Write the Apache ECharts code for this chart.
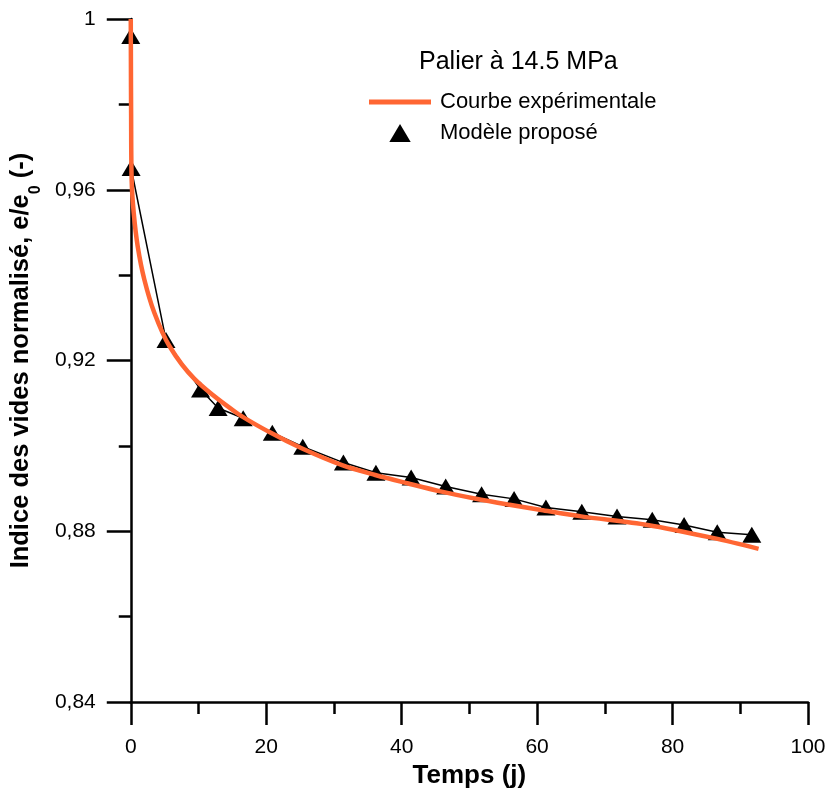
<!DOCTYPE html>
<html>
<head>
<meta charset="utf-8">
<script src="https://cdn.jsdelivr.net/npm/echarts@6/dist/echarts.min.js"></script>
<style>
html,body{margin:0;padding:0;background:#fff;}
#chart{width:833px;height:794px;}
</style>
</head>
<body>
<div id="chart"></div>
<script>
// Experimental curve (time in days, normalized void ratio)
const expTime = [0, 0.02, 0.05, 0.13, 0.44, 1.03, 2.0, 3.48, 5.7, 9.4, 15.5, 20.4, 25.3, 31.2, 36.1, 41, 45.9, 50.8, 55.7, 60.6, 66.5, 76.3, 86.1, 92.7];
const expValue = [1.0, 0.99, 0.978, 0.9623, 0.9545, 0.9467, 0.939, 0.9312, 0.9234, 0.9157, 0.9079, 0.9033, 0.8994, 0.8955, 0.8932, 0.8912, 0.8893, 0.8877, 0.8863, 0.885, 0.8835, 0.8815, 0.8784, 0.8759];
// Proposed model points
const modelTime = [0, 0.05, 5.2, 10.3, 12.9, 16.6, 20.9, 25.4, 31.4, 36.2, 41.4, 46.5, 51.8, 56.6, 61.3, 66.6, 71.8, 77.0, 81.7, 86.6, 91.7];
const modelValue = [0.996, 0.9651, 0.9248, 0.9132, 0.9089, 0.9065, 0.9031, 0.8998, 0.8961, 0.8937, 0.8926, 0.8905, 0.8887, 0.8876, 0.8856, 0.8846, 0.8835, 0.8827, 0.8815, 0.8798, 0.8792];
const seriesNames = ['Courbe expérimentale', 'Modèle proposé'];
const titleText = 'Palier à 14.5 MPa';
const xName = 'Temps (j)';

const font = 'Liberation Sans, Arial, Helvetica, sans-serif';
const chart = echarts.init(document.getElementById('chart'));
chart.setOption({
  backgroundColor: '#ffffff',
  animation: false,
  title: {
    text: titleText,
    left: 414, top: 45,
    textStyle: {fontFamily: font, fontSize: 25, fontWeight: 'normal', color: '#000'}
  },
  legend: {
    orient: 'vertical',
    left: 364, top: 86,
    itemWidth: 62, itemHeight: 18,
    itemGap: 9,
    symbolKeepAspect: true,
    textStyle: {fontFamily: font, fontSize: 22, color: '#000', padding: [0, 0, 0, 4]},
    data: [
      {name: seriesNames[0], icon: 'path://M0,0h62v5h-62z', itemStyle: {color: '#FF6633'}},
      {name: seriesNames[1], icon: 'path://M0,16L9.5,0L19,16Z', itemStyle: {color: '#000'}}
    ]
  },
  grid: {left: 128, right: 25, top: 19, bottom: 88, containLabel: false},
  xAxis: {
    type: 'value', min: 0, max: 100, interval: 20,
    name: xName, nameLocation: 'middle', nameGap: 58,
    nameTextStyle: {fontFamily: font, fontSize: 26, fontWeight: 'bold', color: '#000'},
    axisLine: {show: true, onZero: false, lineStyle: {color: '#000', width: 2.5}},
    axisTick: {show: true, inside: false, length: 23, lineStyle: {color: '#000', width: 2.5}},
    minorTick: {show: true, splitNumber: 2, length: 12, lineStyle: {color: '#000', width: 2.5}},
    axisLabel: {margin: 35, fontFamily: font, fontSize: 21, color: '#000'},
    splitLine: {show: false}
  },
  yAxis: {
    type: 'value', min: 0.84, max: 1, interval: 0.04,
    name: 'Indice des vides normalisé, e/e{sub|0} (-)', nameLocation: 'middle', nameGap: 87,
    nameTextStyle: {fontFamily: font, fontSize: 25.5, fontWeight: 'bold', color: '#000',
      rich: {sub: {fontFamily: font, fontSize: 16, fontWeight: 'bold', color: '#000', verticalAlign: 'bottom', padding: [0, 0, -10, 0]}}},
    axisLine: {show: true, onZero: false, lineStyle: {color: '#000', width: 2.5}},
    axisTick: {show: true, inside: false, length: 24, lineStyle: {color: '#000', width: 2.5}},
    minorTick: {show: true, splitNumber: 2, length: 12, lineStyle: {color: '#000', width: 2.5}},
    axisLabel: {margin: 35, fontFamily: font, fontSize: 21, color: '#000',
      formatter: v => (Math.abs(v - 1) < 1e-9 ? '1' : v.toFixed(2).replace('.', ','))},
    splitLine: {show: false}
  },
  series: [
    {
      name: seriesNames[1],
      type: 'line',
      data: modelTime.map((t, i) => [t, modelValue[i]]),
      symbol: 'triangle', symbolSize: [19, 16],
      itemStyle: {color: '#000'},
      lineStyle: {color: '#000', width: 1.5},
      clip: false,
      z: 2
    },
    {
      name: seriesNames[0],
      type: 'line',
      data: expTime.map((t, i) => [t, expValue[i]]),
      showSymbol: false, symbol: 'none',
      smooth: 0.3,
      itemStyle: {color: '#FF6633'},
      lineStyle: {color: '#FF6633', width: 4.5},
      clip: false,
      z: 3
    }
  ]
});
</script>
</body>
</html>
